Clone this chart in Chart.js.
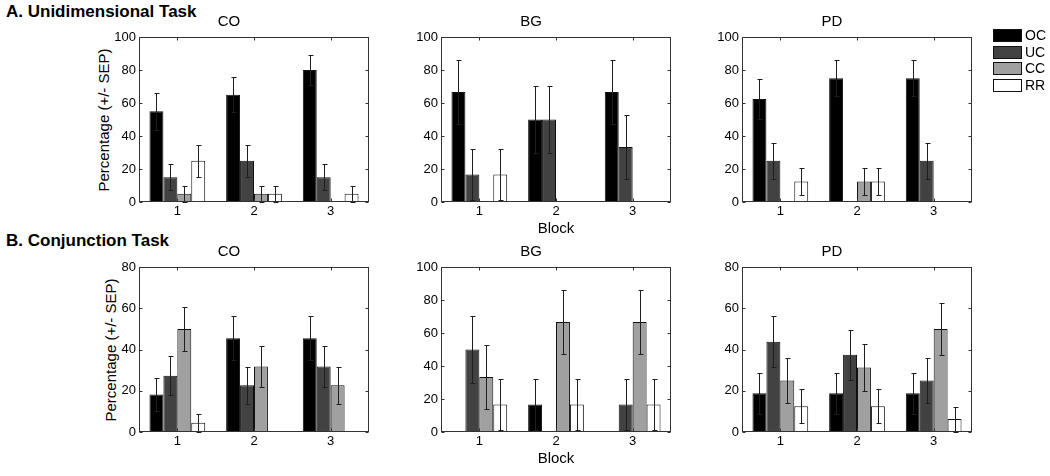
<!DOCTYPE html>
<html lang="en">
<head>
<meta charset="UTF-8">
<title>Unidimensional and conjunction task</title>
<script src="https://cdn.jsdelivr.net/npm/chart.js"></script>
<style>
body {
    margin: 0;
    width: 1050px;
    height: 476px;
    position: relative;
    overflow: hidden;
    background: #fff;
    font-family: 'Liberation Sans', Arial, sans-serif;
    color: #000;
}
.panel {
    position: absolute;
    width: 330px;
    height: 233px;
}
.heading {
    position: absolute;
    left: 6px;
    font-size: 17px;
    font-weight: bold;
    line-height: 20px;
}
.ylabel {
    position: absolute;
    font-size: 15px;
    white-space: nowrap;
    transform: translate(-50%, -50%) rotate(-90deg);
}
.legend {
    position: absolute;
    left: 993px;
    top: 29px;
}
.legend-row {
    height: 16.5px;
    display: flex;
    align-items: flex-start;
}
.legend-patch {
    width: 27px;
    height: 11px;
    border: 1px solid #111;
}
.legend-text {
    margin-left: 3px;
    font-size: 14px;
    line-height: 13px;
}
</style>
</head>
<body>
<div class="heading" style="top:2px">A. Unidimensional Task</div>
<div class="heading" style="top:231px">B. Conjunction Task</div>
<div class="ylabel" style="left:103px; top:120px">Percentage (+/- SEP)</div>
<div class="ylabel" style="left:110px; top:350px">Percentage (+/- SEP)</div>

<div class="panel" style="left:89px; top:5px"><canvas id="uniCO" width="330" height="233"></canvas></div>
<div class="panel" style="left:391px; top:5px"><canvas id="uniBG" width="330" height="233"></canvas></div>
<div class="panel" style="left:692px; top:5px"><canvas id="uniPD" width="330" height="233"></canvas></div>
<div class="panel" style="left:89px; top:235px"><canvas id="conjCO" width="330" height="233"></canvas></div>
<div class="panel" style="left:391px; top:235px"><canvas id="conjBG" width="330" height="233"></canvas></div>
<div class="panel" style="left:692px; top:235px"><canvas id="conjPD" width="330" height="233"></canvas></div>

<div class="legend" id="legend"></div>

<script>
// datos (filas = OC, UC, CC, RR; columnas = bloque 1..3)
const blocks = ['1', '2', '3'];
const seriesNames = ['OC', 'UC', 'CC', 'RR'];

const uniCoMeans = [[55, 65, 80], [15, 25, 15], [5, 5, 0], [25, 5, 5]];
const uniCoErr   = [[11.1, 10.7, 8.9], [8.0, 9.7, 8.0], [4.9, 4.9, 0], [9.7, 4.9, 4.9]];

const uniBgMeans = [[66.7, 50, 66.7], [16.7, 50, 33.3], [0, 0, 0], [16.7, 0, 0]];
const uniBgErr   = [[19.2, 20.4, 19.2], [15.2, 20.4, 19.2], [0, 0, 0], [15.2, 0, 0]];

const uniPdMeans = [[62.5, 75, 75], [25, 0, 25], [0, 12.5, 0], [12.5, 12.5, 0]];
const uniPdErr   = [[12.1, 10.8, 10.8], [10.8, 0, 10.8], [0, 8.3, 0], [8.3, 8.3, 0]];

const conjCoMeans = [[18.2, 45.5, 45.5], [27.3, 22.7, 31.8], [50, 31.8, 22.7], [4.5, 0, 0]];
const conjCoErr   = [[8.2, 10.6, 10.6], [9.5, 8.9, 9.9], [10.7, 9.9, 8.9], [4.4, 0, 0]];

const conjBgMeans = [[0, 16.7, 0], [50, 0, 16.7], [33.3, 66.7, 66.7], [16.7, 16.7, 16.7]];
const conjBgErr   = [[0, 15.2, 0], [20.4, 0, 15.2], [19.2, 19.2, 19.2], [15.2, 15.2, 15.2]];

const conjPdMeans = [[18.75, 18.75, 18.75], [43.75, 37.5, 25], [25, 31.25, 50], [12.5, 12.5, 6.25]];
const conjPdErr   = [[9.8, 9.8, 9.8], [12.4, 12.1, 10.8], [10.8, 11.6, 12.5], [8.3, 8.3, 6.1]];

const seriesColors = ['#000000', '#424242', '#a0a0a0', '#ffffff'];

Chart.defaults.font.family = "'Liberation Sans', Arial, sans-serif";
Chart.defaults.color = '#000';

// caja tipo matlab con marcas hacia dentro
const boxPlugin = {
    id: 'matlabBox',
    afterDatasetsDraw(chart) {
        const { ctx, chartArea: a, scales: { x, y } } = chart;
        ctx.save();
        ctx.strokeStyle = '#333';
        ctx.lineWidth = 1;
        const l = Math.round(a.left) + 0.5, r = Math.round(a.right) - 0.5;
        const t = Math.round(a.top) + 0.5, b = Math.round(a.bottom) - 0.5;
        ctx.strokeRect(l, t, r - l, b - t);
        ctx.beginPath();
        y.ticks.forEach((tk, i) => {
            const py = Math.round(y.getPixelForTick(i)) + 0.5;
            ctx.moveTo(l, py); ctx.lineTo(l + 3, py);
            ctx.moveTo(r, py); ctx.lineTo(r - 3, py);
        });
        x.ticks.forEach((tk, i) => {
            const px = Math.round(x.getPixelForTick(i)) + 0.5;
            ctx.moveTo(px, t); ctx.lineTo(px, t + 3);
            ctx.moveTo(px, b); ctx.lineTo(px, b - 3);
        });
        ctx.stroke();
        ctx.restore();
    }
};

// barras de error (+/- SEP)
const errorBarPlugin = {
    id: 'errorBars',
    afterDatasetsDraw(chart) {
        const { ctx, scales: { y } } = chart;
        ctx.save();
        ctx.strokeStyle = '#1e1e1e';
        ctx.lineWidth = 1;
        ctx.beginPath();
        chart.data.datasets.forEach((ds, i) => {
            const meta = chart.getDatasetMeta(i);
            meta.data.forEach((bar, j) => {
                const v = ds.data[j], e = ds.errors[j];
                if (!v || !e) return;
                const px = Math.round(bar.x) + 0.5;
                const top = Math.round(y.getPixelForValue(v + e)) + 0.5;
                const bot = Math.round(y.getPixelForValue(Math.max(0, v - e))) + 0.5;
                ctx.moveTo(px, top); ctx.lineTo(px, bot);
                ctx.moveTo(px - 2, top); ctx.lineTo(px + 3, top);
                ctx.moveTo(px - 2, bot); ctx.lineTo(px + 3, bot);
            });
        });
        ctx.stroke();
        ctx.restore();
    }
};

function makePanel(id, title, means, errs, yMax, showBlock) {
    return new Chart(document.getElementById(id), {
        type: 'bar',
        data: {
            labels: blocks,
            datasets: seriesNames.map((name, k) => ({
                label: name,
                data: means[k],
                errors: errs[k],
                backgroundColor: seriesColors[k],
                borderColor: '#111',
                borderWidth: c => (c.raw === 0 ? 0 : 1),
                borderSkipped: false,
                categoryPercentage: 0.727,
                barPercentage: 1
            }))
        },
        options: {
            responsive: false,
            animation: false,
            layout: { padding: { left: 0, right: 50, top: 0, bottom: 0 } },
            plugins: {
                legend: { display: false },
                tooltip: { enabled: false },
                title: {
                    display: true,
                    text: title,
                    color: '#000',
                    font: { size: 15, weight: 'normal' },
                    padding: { top: 8, bottom: 6 }
                }
            },
            scales: {
                x: {
                    grid: { display: false, drawTicks: false },
                    border: { display: false },
                    ticks: { color: '#000', font: { size: 13 }, padding: 2 },
                    title: { display: showBlock, text: 'Block', color: '#000', font: { size: 15 }, padding: 0 },
                    afterFit: s => { s.height = 36; }
                },
                y: {
                    min: 0,
                    max: yMax,
                    grid: { display: false, drawTicks: false },
                    border: { display: false },
                    ticks: { stepSize: 20, color: '#000', font: { size: 13 }, padding: 3 },
                    afterFit: s => { s.width = 50; }
                }
            }
        },
        plugins: [errorBarPlugin, boxPlugin]
    });
}

makePanel('uniCO', 'CO', uniCoMeans, uniCoErr, 100, false);
makePanel('uniBG', 'BG', uniBgMeans, uniBgErr, 100, true);
makePanel('uniPD', 'PD', uniPdMeans, uniPdErr, 100, false);
makePanel('conjCO', 'CO', conjCoMeans, conjCoErr, 80, false);
makePanel('conjBG', 'BG', conjBgMeans, conjBgErr, 100, true);
makePanel('conjPD', 'PD', conjPdMeans, conjPdErr, 80, false);

// leyenda
const legend = document.getElementById('legend');
seriesNames.forEach((name, k) => {
    const row = document.createElement('div');
    row.className = 'legend-row';
    row.innerHTML = '<div class="legend-patch" style="background:' + seriesColors[k] + '"></div>' +
        '<span class="legend-text">' + name + '</span>';
    legend.appendChild(row);
});
</script>
</body>
</html>
